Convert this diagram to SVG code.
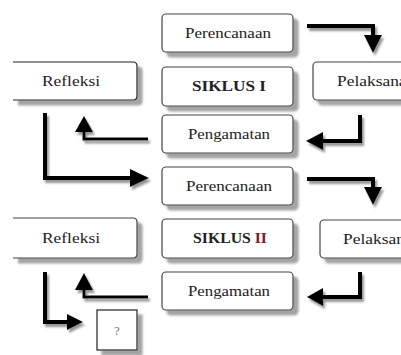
<svg xmlns="http://www.w3.org/2000/svg" width="401" height="355" viewBox="0 0 401 355">
<defs>
<filter id="sh" x="-20%" y="-20%" width="150%" height="160%">
<feDropShadow dx="5" dy="5" stdDeviation="1.2" flood-color="#9a9a9a" flood-opacity="0.9"/>
</filter>
<filter id="ash" x="-20%" y="-20%" width="150%" height="150%">
<feDropShadow dx="2" dy="3" stdDeviation="0.8" flood-color="#888" flood-opacity="0.9"/>
</filter>
</defs>
<style>
.box{fill:#fff;stroke:#444;stroke-width:1.2;filter:url(#sh)}
.t{font-family:'Liberation Serif','DejaVu Serif','Times New Roman',serif;font-size:15px;fill:#222;text-anchor:middle}
.b{font-weight:bold}
.ln{fill:none;stroke:#000;stroke-width:4;stroke-linejoin:miter}
.hd{fill:#000}
</style>
<rect width="401" height="355" fill="#fff"/>
<g id="perencanaan1"><rect class="box" x="162" y="14" width="131" height="38" rx="4"/><text class="t" x="228" y="38" textLength="86" lengthAdjust="spacingAndGlyphs">Perencanaan</text></g>
<g id="siklus1"><rect class="box" x="162" y="67" width="131" height="39" rx="4"/><text class="t b" x="229" y="91" textLength="74" lengthAdjust="spacingAndGlyphs">SIKLUS I</text></g>
<g id="pengamatan1"><rect class="box" x="162" y="115" width="131" height="38" rx="4"/><text class="t" x="229" y="139" textLength="82" lengthAdjust="spacingAndGlyphs">Pengamatan</text></g>
<g id="refleksi1"><path class="box" d="M13,62 H133 Q137,62 137,66 V96 Q137,100 133,100 H13" style="stroke:#222"/><text class="t" x="71" y="86" textLength="58" lengthAdjust="spacingAndGlyphs">Refleksi</text></g>
<g id="pelaksanaan1"><rect class="box" x="313" y="62" width="110" height="38" rx="4"/><text class="t" x="337" y="86" style="text-anchor:start" textLength="86" lengthAdjust="spacingAndGlyphs">Pelaksanaan</text></g>
<g id="perencanaan2"><rect class="box" x="162" y="167" width="131" height="38" rx="4"/><text class="t" x="229" y="191" textLength="86" lengthAdjust="spacingAndGlyphs">Perencanaan</text></g>
<g id="siklus2"><rect class="box" x="162" y="219" width="131" height="39" rx="4"/><text class="t b" x="230" y="243" textLength="74" lengthAdjust="spacingAndGlyphs">SIKLUS <tspan fill="#7a1a2a">II</tspan></text></g>
<g id="pengamatan2"><rect class="box" x="162" y="272" width="131" height="38" rx="4"/><text class="t" x="229" y="296" textLength="82" lengthAdjust="spacingAndGlyphs">Pengamatan</text></g>
<g id="refleksi2"><path class="box" d="M13,218 H133 Q137,218 137,222 V254 Q137,258 133,258 H13"/><text class="t" x="71" y="243" textLength="58" lengthAdjust="spacingAndGlyphs">Refleksi</text></g>
<g id="pelaksanaan2"><rect class="box" x="320" y="220" width="110" height="38" rx="4"/><text class="t" x="343" y="244" style="text-anchor:start" textLength="86" lengthAdjust="spacingAndGlyphs">Pelaksanaan</text></g>
<g id="akhir"><rect x="97" y="310" width="40" height="40" fill="#fff" stroke="#222" stroke-width="1.2" filter="url(#sh)"/><text class="t" x="117" y="335" style="font-size:12px;fill:#666">?</text></g>
<g id="connectors" filter="url(#ash)">
<path class="ln" d="M307,26 H373 V36"/><polygon class="hd" points="364,35 382,35 373,53"/>
<path class="ln" d="M360,115 V141 H322"/><polygon class="hd" points="323,132 323,150 306,141"/>
<path class="ln" d="M148,139 H84 V131" style="stroke-width:3"/><polygon class="hd" points="75,132 93,132 84,116"/>
<path class="ln" d="M45,113 V178 H131"/><polygon class="hd" points="130,169 130,187 149,178"/>
<path class="ln" d="M307,179 H373 V188"/><polygon class="hd" points="364,187 382,187 373,205"/>
<path class="ln" d="M360,272 V297 H322"/><polygon class="hd" points="323,288 323,306 307,297"/>
<path class="ln" d="M148,297 H84 V290" style="stroke-width:3"/><polygon class="hd" points="75,290 93,290 84,273"/>
<path class="ln" d="M45,272 V322 H68"/><polygon class="hd" points="67,314 67,330 83,322"/>
</g>
</svg>
